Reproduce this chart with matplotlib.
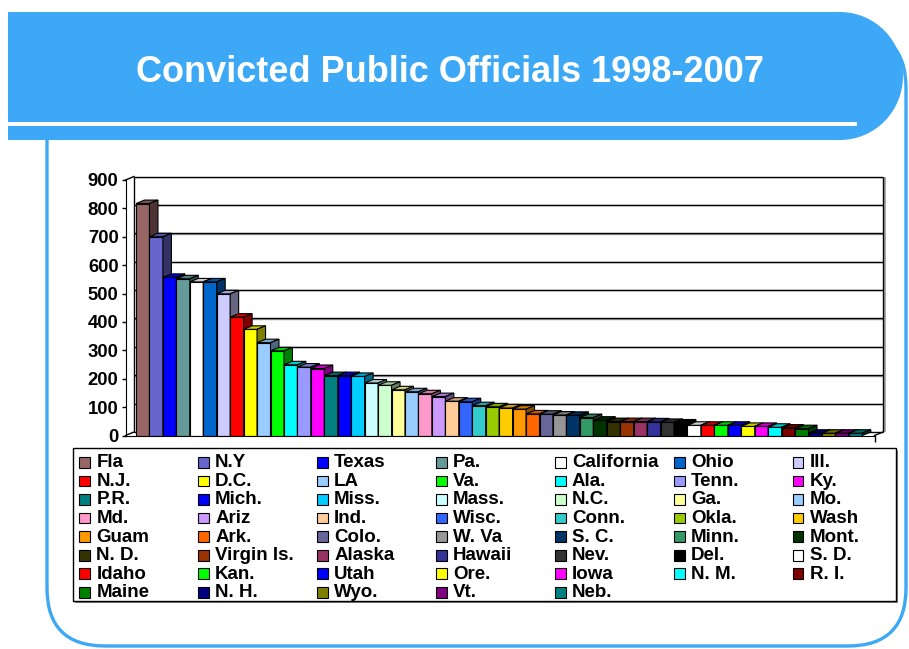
import matplotlib
matplotlib.use("Agg")
import matplotlib.pyplot as plt
from matplotlib.patches import Rectangle, Polygon, Ellipse, FancyBboxPatch
from matplotlib.colors import to_rgb

plt.rcParams['font.family'] = ['Liberation Sans', 'DejaVu Sans']
plt.rcParams['font.weight'] = 'bold'

# data
states = ['Fla', 'N.Y', 'Texas', 'Pa.', 'California', 'Ohio', 'Ill.',
          'N.J.', 'D.C.', 'LA', 'Va.', 'Ala.', 'Tenn.', 'Ky.',
          'P.R.', 'Mich.', 'Miss.', 'Mass.', 'N.C.', 'Ga.', 'Mo.',
          'Md.', 'Ariz', 'Ind.', 'Wisc.', 'Conn.', 'Okla.', 'Wash',
          'Guam', 'Ark.', 'Colo.', 'W. Va', 'S. C.', 'Minn.', 'Mont.',
          'N. D.', 'Virgin Is.', 'Alaska', 'Hawaii', 'Nev.', 'Del.', 'S. D.',
          'Idaho', 'Kan.', 'Utah', 'Ore.', 'Iowa', 'N. M.', 'R. I.',
          'Maine', 'N. H.', 'Wyo.', 'Vt.', 'Neb.']
convictions = [817, 700, 557, 552, 541, 541, 499,
               417, 374, 327, 298, 249, 241, 236,
               211, 211, 208, 185, 177, 161, 154,
               147, 137, 121, 119, 105, 101, 97,
               93, 76, 75, 72, 71, 63, 54,
               49, 49, 49, 48, 46, 44, 36,
               36, 36, 36, 32, 32, 29, 26,
               24, 8, 8, 8, 8]
bar_colors = ['#996666', '#6666CC', '#0000FF', '#669999', '#FFFFFF', '#0066CC', '#CCCCFF',
              '#FF0000', '#FFFF00', '#99CCFF', '#00FF00', '#00FFFF', '#9999FF', '#FF00FF',
              '#008080', '#0000FF', '#00CCFF', '#CCFFFF', '#CCFFCC', '#FFFF99', '#99CCFF',
              '#FF99CC', '#CC99FF', '#FFCC99', '#3366FF', '#33CCCC', '#99CC00', '#FFCC00',
              '#FF9900', '#FF6600', '#666699', '#969696', '#003366', '#339966', '#003300',
              '#333300', '#993300', '#993366', '#333399', '#333333', '#000000', '#FFFFFF',
              '#FF0000', '#00FF00', '#0000FF', '#FFFF00', '#FF00FF', '#00FFFF', '#800000',
              '#008000', '#000080', '#808000', '#800080', '#008080']
y_ticks = list(range(0, 901, 100))
title = 'Convicted Public Officials 1998-2007'

W, H = 909, 649
fig = plt.figure(figsize=(W / 100, H / 100), dpi=100)

# background layer in pixel coordinates
bg = fig.add_axes([0, 0, 1, 1])
bg.set_xlim(0, W)
bg.set_ylim(H, 0)
bg.axis('off')

blue = '#3DA8F5'
bg.add_patch(FancyBboxPatch((47, 30), 859, 616, boxstyle="round,pad=0,rounding_size=58",
                            fill=False, ec=blue, lw=2.4))
bg.add_patch(Rectangle((8, 12), 834, 128, color=blue, lw=0))
bg.add_patch(Ellipse((840, 76), 126, 128, color=blue, lw=0))
bg.add_patch(Rectangle((8, 122), 849, 4, color='white', lw=0))
bg.text(449.5, 81.5, title, color='white', fontsize=26, fontweight='bold',
        ha='center', va='baseline')

# legend, filled row by row like the original
bg.add_patch(Rectangle((75, 450), 823, 153, fc='#808080', lw=0))
bg.add_patch(Rectangle((73, 448), 823, 153, fc='white', ec='black', lw=1))
ncol = 7
for k, (name, col) in enumerate(zip(states, bar_colors)):
    r, c = divmod(k, ncol)
    x = 79.3 + 118.9 * c
    y = 462.3 + 18.57 * r
    bg.add_patch(Rectangle((x, y - 5.3), 10.7, 10.7, fc=col, ec='black', lw=0.8))
    bg.text(x + 17, y + 0.5, name, fontsize=13.5, fontweight='bold', va='center')


def px_rect(x0, y0, x1, y1):
    return [x0 / W, 1 - y1 / H, (x1 - x0) / W, (y1 - y0) / H]


# chart (fake 3D columns)
ax = fig.add_axes(px_rect(125.5, 176.5, 883, 435.5))
ax.set_facecolor('none')
pitch = 13.45
x_lo = -(136 - 125.5) / pitch
x_hi = (883 - 136) / pitch
dxu = 8.5 / pitch
dyu = 3.5 / (255.5 / 900)
ax.set_xlim(x_lo, x_hi)
ax.set_ylim(0, 900 + dyu)

# back wall + gridlines
ax.hlines([v + dyu - 1.2 for v in y_ticks[1:]], x_lo + dxu, x_hi, colors='#9a9a9a', lw=1, zorder=1)
ax.hlines([v + dyu for v in y_ticks], x_lo + dxu, x_hi, colors='black', lw=1, zorder=1.1, clip_on=False)
ax.vlines(x_lo + dxu, dyu, 900 + dyu, colors='black', lw=1, zorder=1.1, clip_on=False)
ax.vlines(x_hi + 0.12, dyu - 1, 900 + dyu, colors='#9a9a9a', lw=1.2, zorder=1, clip_on=False)
ax.vlines(x_hi, dyu, 900 + dyu, colors='black', lw=1, zorder=1.1, clip_on=False)
ax.plot([x_lo, x_lo + dxu], [900, 900 + dyu], color='black', lw=1, clip_on=False)
ax.plot([x_lo, x_lo + dxu], [0, dyu], color='black', lw=1, clip_on=False)
ax.plot([x_hi - dxu, x_hi], [0, dyu], color='black', lw=1, clip_on=False)
ax.vlines(x_hi - dxu, -22, 0, colors='black', lw=1, clip_on=False)

xs = list(range(len(convictions)))
bars = ax.bar(xs, convictions, width=1, align='edge', color=bar_colors,
              edgecolor='black', lw=0.8)
for i, (b, v, col) in enumerate(zip(bars, convictions, bar_colors)):
    z = 3 + 0.01 * i
    b.set_zorder(z)
    rgb = to_rgb(col)
    top_c = tuple(ch * 0.8 for ch in rgb)
    side_c = tuple(ch * 0.5 for ch in rgb)
    ax.add_patch(Polygon([(i, v), (i + 1, v), (i + 1 + dxu, v + dyu), (i + dxu, v + dyu)],
                         closed=True, fc=top_c, ec='black', lw=0.8, zorder=z + 0.005))
    ax.add_patch(Polygon([(i + 1, 0), (i + 1 + dxu, dyu), (i + 1 + dxu, v + dyu), (i + 1, v)],
                         closed=True, fc=side_c, ec='black', lw=0.8, zorder=z + 0.005))

for s in ['top', 'right']:
    ax.spines[s].set_visible(False)
ax.spines['left'].set_bounds(0, 900)
ax.spines['bottom'].set_bounds(x_lo, x_hi - dxu)
ax.spines['left'].set_zorder(10)
ax.spines['bottom'].set_zorder(10)
ax.set_xticks([])
ax.set_yticks(y_ticks)
ax.tick_params(axis='y', direction='out', length=3, width=1, pad=2, labelsize=13.3)
for lab in ax.get_yticklabels():
    lab.set_fontweight('bold')

fig.savefig('out.png', dpi=100)
